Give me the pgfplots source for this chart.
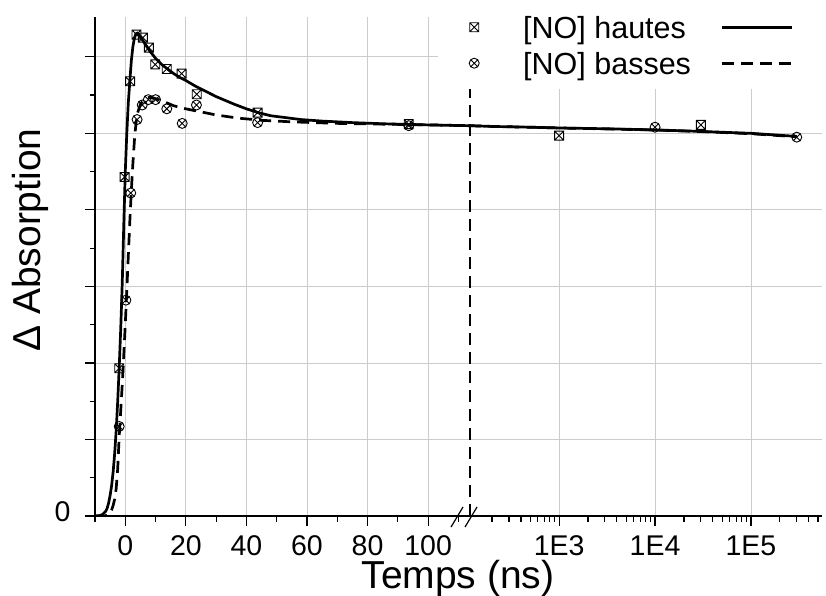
\documentclass[border=0pt]{standalone}
\usepackage{pgfplots}
\pgfplotsset{compat=1.18}
\usepackage{fontspec}
\setmainfont{Liberation Sans}
\usetikzlibrary{plotmarks}
\pgfdeclareplotmark{sqx}{%
  \pgfpathrectangle{\pgfpoint{-\pgfplotmarksize}{-\pgfplotmarksize}}{\pgfpoint{2\pgfplotmarksize}{2\pgfplotmarksize}}%
  \pgfpathmoveto{\pgfpoint{-\pgfplotmarksize}{-\pgfplotmarksize}}%
  \pgfpathlineto{\pgfpoint{\pgfplotmarksize}{\pgfplotmarksize}}%
  \pgfpathmoveto{\pgfpoint{-\pgfplotmarksize}{\pgfplotmarksize}}%
  \pgfpathlineto{\pgfpoint{\pgfplotmarksize}{-\pgfplotmarksize}}%
  \pgfusepathqstroke}

\pgfplotstableread{
x y
-10 0
-8.5 0.005
-7.5 0.02
-6.5 0.06
-6 0.1
-5.5 0.17
-5 0.27
-4.5 0.4
-4 0.58
-3.5 0.82
-3 1.12
-2.5 1.5
-2 1.95
-1.5 2.45
-1 3.05
-0.5 3.8
0 4.5
0.5 5.0
1 5.4
1.5 5.68
2 5.95
2.5 6.13
3 6.24
3.5 6.3
4 6.31
4.5 6.29
5 6.26
6 6.2
7 6.14
8 6.08
10 5.98
12 5.9
14 5.84
16 5.78
18 5.73
20 5.69
23 5.62
26 5.56
30 5.48
33 5.43
36 5.38
40 5.32
44 5.27
48 5.23
52 5.21
58 5.18
65 5.16
75 5.14
85 5.125
100 5.11
113.5 5.10
}\fitHautesLin

\pgfplotstableread{
x y
-10 0
-7 0.0
-6 0.01
-5 0.04
-4.5 0.08
-4 0.14
-3.5 0.22
-3 0.36
-2.5 0.62
-2 1.05
-1.5 1.38
-1 1.72
-0.5 2.1
0 2.5
0.5 2.95
1 3.4
1.5 3.85
2 4.25
2.5 4.6
3 4.9
3.5 5.12
4 5.26
5 5.38
6 5.43
7 5.46
8 5.47
9.5 5.46
11 5.44
13 5.41
16 5.36
20 5.32
25 5.28
30 5.24
37 5.2
45 5.17
55 5.15
70 5.13
85 5.12
100 5.11
113.5 5.10
}\fitBassesLin

\pgfplotstableread{
x y
115 5.10
200 5.09
500 5.08
1000 5.07
3000 5.06
10000 5.045
30000 5.025
100000 5.0
300000 4.96
}\fitHautesLog

\pgfplotstableread{
x y
115 5.10
200 5.09
500 5.08
1000 5.07
3000 5.058
10000 5.043
30000 5.023
100000 4.995
300000 4.955
}\fitBassesLog

\pgfplotstableread{
x y
-2.0 1.93
-0.2 4.43
1.6 5.68
3.7 6.29
5.8 6.25
7.8 6.12
9.9 5.9
13.7 5.84
18.6 5.78
23.6 5.51
43.7 5.27
93.6 5.12
}\ptsHautesLin

\pgfplotstableread{
x y
-2.0 1.17
0.2 2.82
1.8 4.22
3.9 5.18
5.6 5.37
7.6 5.44
10 5.44
13.7 5.32
18.8 5.13
23.5 5.37
43.7 5.14
93.6 5.10
}\ptsBassesLin

\pgfplotstableread{
x y
1000 4.97
30000 5.11
}\ptsHautesLog

\pgfplotstableread{
x y
10000 5.08
300000 4.95
}\ptsBassesLog

\pgfplotsset{
  common/.style={
    scale only axis, height=499pt, ymin=0, ymax=6.52,
    tick align=outside,
    major tick length=10pt, minor tick length=5.5pt,
    every tick/.append style={black, line width=1.2pt},
    grid style={gray!40, line width=0.8pt},
    xmajorgrids, ymajorgrids,
    ytick={0,1,2,3,4,5,6},
    axis line style={line width=1.7pt},
    tick label style={font=\fontsize{28.5}{30}\selectfont},
    xticklabel style={yshift=-6pt},
    /pgf/number format/assume math mode=true,
  },
  hautes/.style={only marks, mark=sqx, mark size=4.5pt, mark options={line width=0.9pt, solid}},
  basses/.style={only marks, mark=otimes, mark size=5pt, mark options={line width=0.9pt, solid}},
  fitH/.style={black, line width=2.7pt, no marks},
  fitB/.style={black, line width=2.7pt, no marks, dash pattern=on 12pt off 7pt},
  markLeg/.style={legend image code/.code={\draw[##1] plot coordinates {(4.5pt,0pt)};}},
  lineLeg/.style={legend image code/.code={\draw[##1] (0pt,0pt) -- (70pt,0pt);}},
}

\begin{document}
\begin{tikzpicture}
\useasboundingbox (0,0) rectangle (826pt,595pt);

\begin{axis}[common, at={(95pt,79pt)}, anchor=south west, width=374pt,
  xmin=-10, xmax=113.5,
  axis x line*=bottom, axis y line*=left,
  xtick={0,20,40,60,80,100}, xticklabels={0,20,40,60,80,100},
  minor xtick={-10,10,30,50,70,90,110},
  minor ytick={0.5,1.5,2.5,3.5,4.5,5.5},
  yticklabels={0,,,,,,},
  yticklabel style={xshift=-11pt, yshift=4pt},
  xlabel={Temps (ns)}, ylabel={Δ Absorption},
  label style={font=\fontsize{39}{40}\selectfont},
  xlabel style={at={(axis description cs:0.9706,-0.1443)}, anchor=base},
  ylabel style={at={(axis description cs:-0.145,0.553)}, anchor=base},
]
\addplot[fitH] table {\fitHautesLin};
\addplot[fitB] table {\fitBassesLin};
\addplot[hautes] table {\ptsHautesLin};
\addplot[basses] table {\ptsBassesLin};
\end{axis}

\begin{axis}[common, at={(469pt,79pt)}, anchor=south west, width=353pt,
  xmode=log, xmin=115, xmax=5.5e5,
  axis x line*=bottom, axis y line*=left,
  y axis line style={draw=none}, ytick style={draw=none}, yticklabels={},
  xtick={1000,10000,100000}, xticklabels={1E3,1E4,1E5},
  minor xtick={200,300,400,500,600,700,800,900,2000,3000,4000,5000,6000,7000,8000,9000,20000,30000,40000,50000,60000,70000,80000,90000,200000,300000,400000,500000},
  legend columns=2,
  legend cell align=left,
  legend style={draw=none, fill=white,
    at={(axis description cs:-0.0878,1.032)}, anchor=north west,
    inner xsep=31pt, inner ysep=9pt,
    font=\fontsize{30.5}{32}\selectfont,
    nodes={inner sep=0pt, text height=28pt, text depth=6pt},
    row sep=2pt, column sep=0pt,
    /tikz/every odd column/.append style={column sep=44pt},
    /tikz/every even column/.append style={column sep=30pt}},
]
\addplot[fitB, forget plot] coordinates {(117.5,0) (117.5,6.52)};
\addplot[hautes, markLeg] table {\ptsHautesLog};
\addlegendentry{[NO] hautes}
\addplot[fitH, lineLeg] table {\fitHautesLog};
\addlegendentry{}
\addplot[basses, markLeg] table {\ptsBassesLog};
\addlegendentry{[NO] basses}
\addplot[fitB, lineLeg] table {\fitBassesLog};
\addlegendentry{}
\end{axis}

\draw[line width=1.2pt] (451pt,68pt) -- (463pt,88pt);
\draw[line width=1.2pt] (465pt,68pt) -- (477pt,88pt);
\end{tikzpicture}
\end{document}
